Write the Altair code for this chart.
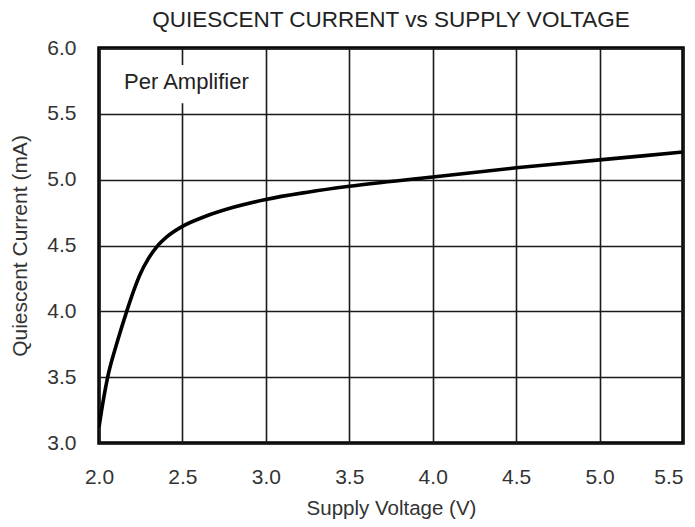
import altair as alt
import pandas as pd

voltage = [2.0, 2.016, 2.052, 2.11, 2.166, 2.206, 2.246, 2.296, 2.346, 2.406, 2.5, 2.635, 2.805, 3.0, 3.25, 3.5, 4.0, 4.5, 5.0, 5.5]
current = [3.12, 3.25, 3.5, 3.77, 4.0, 4.15, 4.28, 4.40, 4.49, 4.565, 4.645, 4.72, 4.79, 4.85, 4.905, 4.95, 5.02, 5.09, 5.15, 5.21]

note_text = ["Per Amplifier"]
note_x = [2.15]
note_y = [5.74]
box_x = [2.13]
box_x2 = [2.94]
box_y = [5.58]
box_y2 = [5.87]

x_ticks = [2.0, 2.5, 3.0, 3.5, 4.0, 4.5, 5.0, 5.5]
y_ticks = [3.0, 3.5, 4.0, 4.5, 5.0, 5.5, 6.0]

FONT = "Liberation Sans"
FS = 21

df = pd.DataFrame({"v": voltage, "i": current})
note = pd.DataFrame({"t": note_text, "x": note_x, "y": note_y})
box = pd.DataFrame({"x": box_x, "x2": box_x2, "y": box_y, "y2": box_y2})

xs = alt.Scale(domain=[x_ticks[0], x_ticks[-1]], nice=False, zero=False)
ys = alt.Scale(domain=[y_ticks[0], y_ticks[-1]], nice=False, zero=False)

common = dict(ticks=False, domain=False, labelFontSize=FS,
              labelColor="#333", titleColor="#333", titleFontWeight="normal",
              gridColor="#1a1a1a", gridWidth=1.6, gridOpacity=1, labelFont=FONT, titleFont=FONT,
              format=".1f", labelFlush=False)
xax = alt.Axis(values=x_ticks, labelPadding=23, titlePadding=11, titleFontSize=20.5,
               labelAlign=alt.expr("datum.value >= 5.5 ? 'right' : 'center'"), **common)
yax = alt.Axis(values=y_ticks, labelPadding=23, titlePadding=16, titleFontSize=FS, **common)

line = alt.Chart(df).mark_line(color="black", strokeWidth=3.6, interpolate="monotone", clip=True).encode(
    x=alt.X("v:Q", scale=xs, axis=xax, title="Supply Voltage (V)"),
    y=alt.Y("i:Q", scale=ys, axis=yax, title="Quiescent Current (mA)"),
)

rect = alt.Chart(box).mark_rect(color="white").encode(
    x=alt.X("x:Q", scale=xs), x2="x2:Q", y=alt.Y("y:Q", scale=ys), y2="y2:Q"
)

text = alt.Chart(note).mark_text(align="left", baseline="middle", fontSize=22, font=FONT, color="#222").encode(
    x=alt.X("x:Q", scale=xs), y=alt.Y("y:Q", scale=ys), text="t:N"
)

chart = alt.layer(line, rect, text).properties(
    width=584, height=395,
    title=alt.TitleParams("QUIESCENT CURRENT vs SUPPLY VOLTAGE", fontSize=22.5, font=FONT,
                          fontWeight="normal", color="#222", offset=6),
    autosize=alt.AutoSizeParams(type="none"),
    padding={"left": 91, "top": 40, "right": 4, "bottom": 76},
    background="white",
).configure_view(stroke="black", strokeWidth=3.5)

chart.save("out.html", embed_options={"renderer": "svg", "actions": False})
